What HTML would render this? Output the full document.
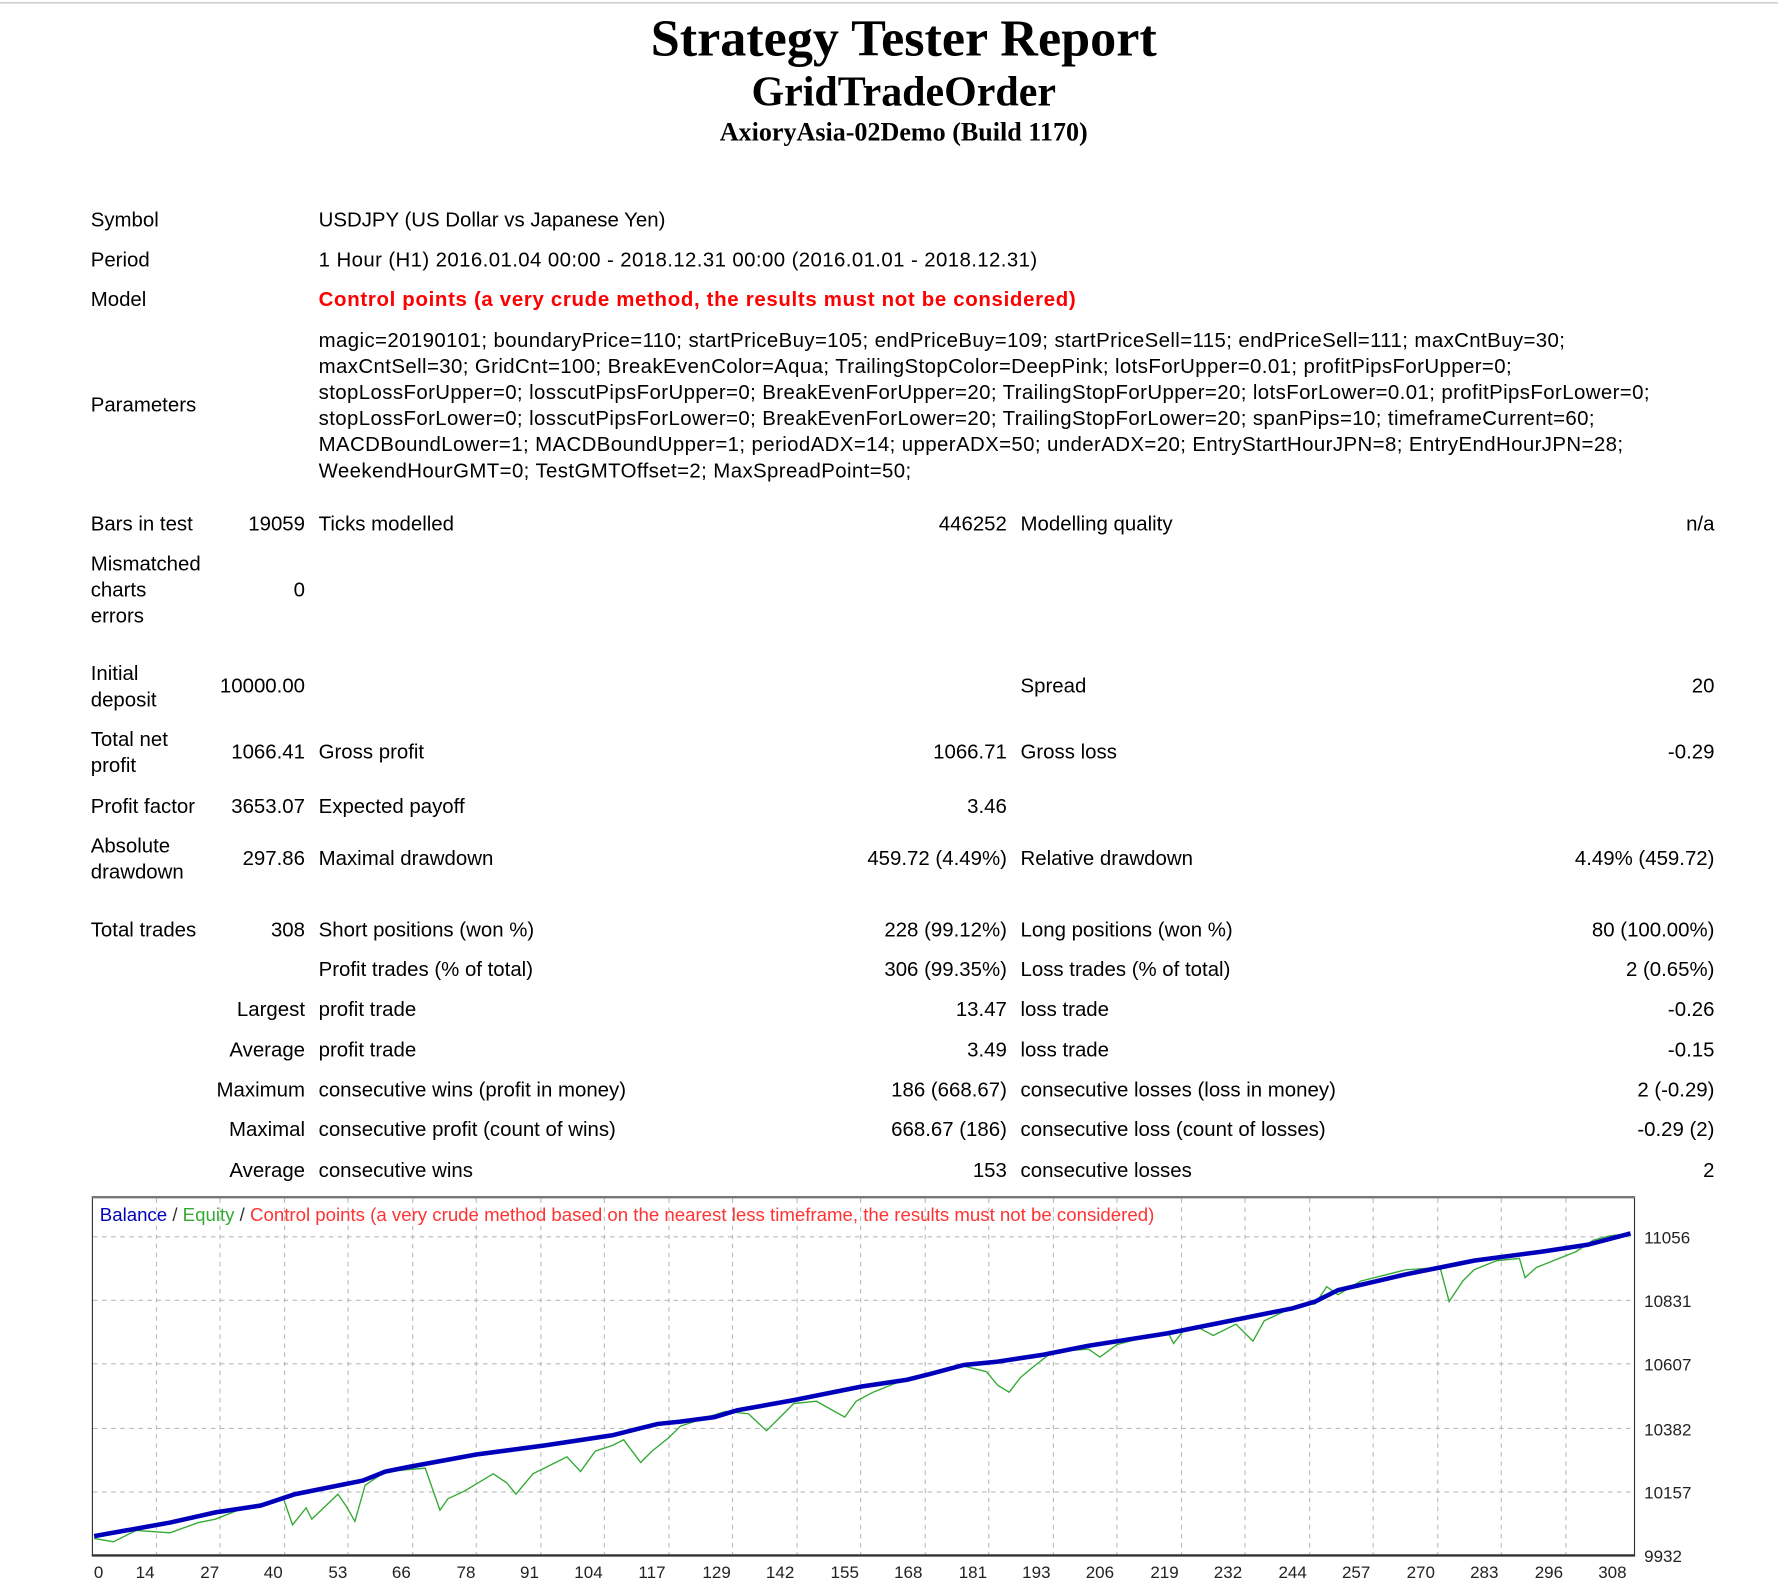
<!DOCTYPE html>
<html><head><meta charset="utf-8"><style>
html,body{margin:0;padding:0;background:#fff;width:1778px;height:1594px;overflow:hidden}
#w{position:absolute;left:0;top:0;width:1568px;height:1406px;transform:scale(1.1339,1.1337);transform-origin:0 0;font-family:"Liberation Sans","DejaVu Sans",sans-serif;font-size:18px;color:#000}
.t{position:absolute;white-space:nowrap;line-height:23px}
.r{text-align:right}
.h{position:absolute;left:0;width:1594px;text-align:center;font-family:"Liberation Serif",serif;font-weight:bold}
.ls{letter-spacing:0.35px}
</style></head><body><div id="w">
<div style="position:absolute;left:0;top:2px;width:1568px;height:1px;background:#bbb"></div>
<div class="h" style="top:7px;font-size:46px">Strategy Tester Report</div>
<div class="h" style="top:60px;font-size:37px">GridTradeOrder</div>
<div class="h" style="top:104px;font-size:23px">AxioryAsia-02Demo (Build 1170)</div>

<div class="t" style="left:80px;top:183px">Symbol</div><div class="t" style="left:281px;top:183px">USDJPY (US Dollar vs Japanese Yen)</div>
<div class="t" style="left:80px;top:218px">Period</div><div class="t ls" style="left:281px;top:218px">1 Hour (H1) 2016.01.04 00:00 - 2018.12.31 00:00 (2016.01.01 - 2018.12.31)</div>
<div class="t" style="left:80px;top:253px">Model</div><div class="t" style="left:281px;top:253px;color:#f00;font-weight:bold;letter-spacing:0.6px">Control points (a very crude method, the results must not be considered)</div>
<div class="t" style="left:80px;top:346px">Parameters</div>
<div class="t ls" style="left:281px;top:289px">magic=20190101; boundaryPrice=110; startPriceBuy=105; endPriceBuy=109; startPriceSell=115; endPriceSell=111; maxCntBuy=30;<br>maxCntSell=30; GridCnt=100; BreakEvenColor=Aqua; TrailingStopColor=DeepPink; lotsForUpper=0.01; profitPipsForUpper=0;<br>stopLossForUpper=0; losscutPipsForUpper=0; BreakEvenForUpper=20; TrailingStopForUpper=20; lotsForLower=0.01; profitPipsForLower=0;<br>stopLossForLower=0; losscutPipsForLower=0; BreakEvenForLower=20; TrailingStopForLower=20; spanPips=10; timeframeCurrent=60;<br>MACDBoundLower=1; MACDBoundUpper=1; periodADX=14; upperADX=50; underADX=20; EntryStartHourJPN=8; EntryEndHourJPN=28;<br>WeekendHourGMT=0; TestGMTOffset=2; MaxSpreadPoint=50;</div>

<div class="t" style="left:80px;top:451px">Bars in test</div><div class="t r" style="right:1299px;top:451px">19059</div>
<div class="t" style="left:281px;top:451px">Ticks modelled</div><div class="t r" style="right:680px;top:451px">446252</div>
<div class="t" style="left:900px;top:451px">Modelling quality</div><div class="t r" style="right:56px;top:451px">n/a</div>

<div class="t" style="left:80px;top:486px">Mismatched<br>charts<br>errors</div><div class="t r" style="right:1299px;top:509px">0</div>

<div class="t" style="left:80px;top:583px">Initial<br>deposit</div><div class="t r" style="right:1299px;top:594px">10000.00</div>
<div class="t" style="left:900px;top:594px">Spread</div><div class="t r" style="right:56px;top:594px">20</div>

<div class="t" style="left:80px;top:641px">Total net<br>profit</div><div class="t r" style="right:1299px;top:652px">1066.41</div>
<div class="t" style="left:281px;top:652px">Gross profit</div><div class="t r" style="right:680px;top:652px">1066.71</div>
<div class="t" style="left:900px;top:652px">Gross loss</div><div class="t r" style="right:56px;top:652px">-0.29</div>

<div class="t" style="left:80px;top:700px">Profit factor</div><div class="t r" style="right:1299px;top:700px">3653.07</div>
<div class="t" style="left:281px;top:700px">Expected payoff</div><div class="t r" style="right:680px;top:700px">3.46</div>

<div class="t" style="left:80px;top:735px">Absolute<br>drawdown</div><div class="t r" style="right:1299px;top:746px">297.86</div>
<div class="t" style="left:281px;top:746px">Maximal drawdown</div><div class="t r" style="right:680px;top:746px">459.72 (4.49%)</div>
<div class="t" style="left:900px;top:746px">Relative drawdown</div><div class="t r" style="right:56px;top:746px">4.49% (459.72)</div>

<div class="t" style="left:80px;top:809px">Total trades</div><div class="t r" style="right:1299px;top:809px">308</div>
<div class="t" style="left:281px;top:809px">Short positions (won %)</div><div class="t r" style="right:680px;top:809px">228 (99.12%)</div>
<div class="t" style="left:900px;top:809px">Long positions (won %)</div><div class="t r" style="right:56px;top:809px">80 (100.00%)</div>

<div class="t" style="left:281px;top:844px">Profit trades (% of total)</div><div class="t r" style="right:680px;top:844px">306 (99.35%)</div>
<div class="t" style="left:900px;top:844px">Loss trades (% of total)</div><div class="t r" style="right:56px;top:844px">2 (0.65%)</div>

<div class="t r" style="right:1299px;top:879px">Largest</div>
<div class="t" style="left:281px;top:879px">profit trade</div><div class="t r" style="right:680px;top:879px">13.47</div>
<div class="t" style="left:900px;top:879px">loss trade</div><div class="t r" style="right:56px;top:879px">-0.26</div>

<div class="t r" style="right:1299px;top:915px">Average</div>
<div class="t" style="left:281px;top:915px">profit trade</div><div class="t r" style="right:680px;top:915px">3.49</div>
<div class="t" style="left:900px;top:915px">loss trade</div><div class="t r" style="right:56px;top:915px">-0.15</div>

<div class="t r" style="right:1299px;top:950px">Maximum</div>
<div class="t" style="left:281px;top:950px">consecutive wins (profit in money)</div><div class="t r" style="right:680px;top:950px">186 (668.67)</div>
<div class="t" style="left:900px;top:950px">consecutive losses (loss in money)</div><div class="t r" style="right:56px;top:950px">2 (-0.29)</div>

<div class="t r" style="right:1299px;top:985px">Maximal</div>
<div class="t" style="left:281px;top:985px">consecutive profit (count of wins)</div><div class="t r" style="right:680px;top:985px">668.67 (186)</div>
<div class="t" style="left:900px;top:985px">consecutive loss (count of losses)</div><div class="t r" style="right:56px;top:985px">-0.29 (2)</div>

<div class="t r" style="right:1299px;top:1021px">Average</div>
<div class="t" style="left:281px;top:1021px">consecutive wins</div><div class="t r" style="right:680px;top:1021px">153</div>
<div class="t" style="left:900px;top:1021px">consecutive losses</div><div class="t r" style="right:56px;top:1021px">2</div>

<svg style="position:absolute;left:0;top:0" width="1568" height="1406" font-family="Liberation Sans, sans-serif">
<g stroke="#bbb" stroke-dasharray="4,4" stroke-width="1">
<line x1="82" y1="1091" x2="1441" y2="1091"/><line x1="82" y1="1147" x2="1441" y2="1147"/><line x1="82" y1="1203" x2="1441" y2="1203"/><line x1="82" y1="1260" x2="1441" y2="1260"/><line x1="82" y1="1316" x2="1441" y2="1316"/>
<line x1="138" y1="1057" x2="138" y2="1371"/><line x1="194" y1="1057" x2="194" y2="1371"/><line x1="251" y1="1057" x2="251" y2="1371"/><line x1="307" y1="1057" x2="307" y2="1371"/><line x1="364" y1="1057" x2="364" y2="1371"/><line x1="420" y1="1057" x2="420" y2="1371"/><line x1="477" y1="1057" x2="477" y2="1371"/><line x1="533" y1="1057" x2="533" y2="1371"/><line x1="590" y1="1057" x2="590" y2="1371"/><line x1="646" y1="1057" x2="646" y2="1371"/><line x1="703" y1="1057" x2="703" y2="1371"/><line x1="759" y1="1057" x2="759" y2="1371"/><line x1="816" y1="1057" x2="816" y2="1371"/><line x1="872" y1="1057" x2="872" y2="1371"/><line x1="929" y1="1057" x2="929" y2="1371"/><line x1="985" y1="1057" x2="985" y2="1371"/><line x1="1042" y1="1057" x2="1042" y2="1371"/><line x1="1098" y1="1057" x2="1098" y2="1371"/><line x1="1155" y1="1057" x2="1155" y2="1371"/><line x1="1211" y1="1057" x2="1211" y2="1371"/><line x1="1268" y1="1057" x2="1268" y2="1371"/><line x1="1324" y1="1057" x2="1324" y2="1371"/><line x1="1381" y1="1057" x2="1381" y2="1371"/>
</g>
<rect x="81.5" y="1056" width="1360" height="316" fill="none" stroke="#333" stroke-width="1"/>
<line x1="81" y1="1056" x2="1442" y2="1056" stroke="#777" stroke-width="2"/>
<line x1="81" y1="1372" x2="1442" y2="1372" stroke="#333" stroke-width="2"/>
<polyline fill="none" stroke="#3a3" stroke-width="1.2" points="83,1357 100,1360 120,1350 150,1352 175,1343 190,1340 215,1330 250,1322 258,1345 270,1330 275,1340 298,1318 305,1328 313,1342 322,1310 340,1298 375,1295 388,1332 395,1322 410,1315 435,1300 447,1308 455,1318 470,1300 490,1290 500,1285 512,1298 525,1280 540,1275 550,1270 565,1290 575,1280 590,1268 600,1258 630,1248 640,1245 660,1247 676,1262 690,1248 700,1238 720,1236 745,1250 755,1236 770,1228 790,1220 820,1213 850,1205 870,1210 880,1222 890,1228 900,1215 912,1205 925,1195 935,1192 960,1190 970,1197 985,1186 1000,1182 1030,1175 1035,1185 1045,1172 1055,1170 1070,1178 1090,1168 1105,1183 1115,1165 1130,1158 1140,1153 1160,1150 1170,1135 1180,1142 1200,1130 1240,1120 1270,1118 1278,1148 1290,1130 1300,1120 1320,1112 1340,1110 1345,1127 1355,1118 1370,1112 1390,1104 1405,1094 1420,1090 1438,1088"/>
<polyline fill="none" stroke="#00b" stroke-width="4" points="83,1355 150,1343 190,1334 230,1328 260,1318 300,1310 320,1306 340,1298 360,1294 420,1283 480,1275 540,1266 580,1256 600,1254 630,1250 650,1244 700,1235 760,1223 800,1217 820,1212 850,1204 880,1201 920,1195 960,1187 1030,1176 1100,1162 1140,1154 1160,1148 1180,1138 1240,1124 1270,1118 1300,1112 1360,1104 1400,1098 1438,1088"/>
<text x="88" y="1077" font-size="16.5" textLength="930" lengthAdjust="spacingAndGlyphs"><tspan fill="#00b">Balance</tspan><tspan fill="#333"> / </tspan><tspan fill="#3a3">Equity</tspan><tspan fill="#333"> / </tspan><tspan fill="#f33">Control points (a very crude method based on the nearest less timeframe, the results must not be considered)</tspan></text>
<g font-size="15" fill="#222">
<text x="1450" y="1097">11056</text><text x="1450" y="1153">10831</text><text x="1450" y="1209">10607</text><text x="1450" y="1266">10382</text><text x="1450" y="1322">10157</text><text x="1450" y="1378">9932</text>
</g>
<g font-size="15" fill="#222" text-anchor="middle">
<text x="87" y="1392">0</text><text x="128" y="1392">14</text><text x="185" y="1392">27</text><text x="241" y="1392">40</text><text x="298" y="1392">53</text><text x="354" y="1392">66</text><text x="411" y="1392">78</text><text x="467" y="1392">91</text><text x="519" y="1392">104</text><text x="575" y="1392">117</text><text x="632" y="1392">129</text><text x="688" y="1392">142</text><text x="745" y="1392">155</text><text x="801" y="1392">168</text><text x="858" y="1392">181</text><text x="914" y="1392">193</text><text x="970" y="1392">206</text><text x="1027" y="1392">219</text><text x="1083" y="1392">232</text><text x="1140" y="1392">244</text><text x="1196" y="1392">257</text><text x="1253" y="1392">270</text><text x="1309" y="1392">283</text><text x="1366" y="1392">296</text><text x="1422" y="1392">308</text>
</g>
</svg>
</div></body></html>
